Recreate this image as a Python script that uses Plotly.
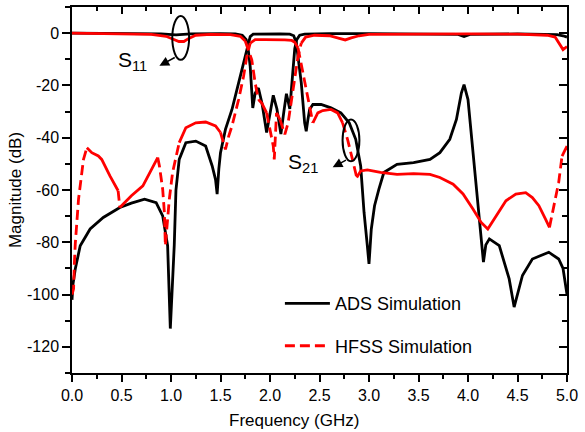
import plotly.graph_objects as go

# ---------------- data ----------------
ads_s11_f = [0.0, 0.5, 0.9, 1.05, 1.2, 1.5, 1.65, 1.72, 1.76, 1.78, 1.80, 1.826, 1.85, 1.883,
             1.92, 1.966, 2.0, 2.033, 2.07, 2.11, 2.14, 2.166, 2.20, 2.23, 2.25, 2.27, 2.30,
             2.35, 2.6, 3.0, 3.5, 3.9, 3.96, 4.02, 4.5, 4.9, 4.96, 5.0]
ads_s11_db = [0, -0.1, -0.3, -0.7, -0.3, -0.2, -0.3, -0.8, -2.5, -6.3, -12.7, -28.6, -23, -21,
              -27, -38, -31, -23.8, -29, -38.6, -30, -23.2, -29, -14, -6, -2.5, -0.8,
              -0.4, -0.2, -0.2, -0.3, -0.5, -1.3, -0.5, -0.3, -0.6, -1.0, -1.5]

ads_s21_f = [0.0, 0.01, 0.033, 0.083, 0.183, 0.316, 0.483, 0.60, 0.733, 0.85, 0.916, 0.966,
             0.993, 1.01, 1.033, 1.05, 1.083, 1.15, 1.25, 1.35, 1.416, 1.45, 1.466, 1.483,
             1.5, 1.55, 1.616, 1.683, 1.75, 1.8, 1.83, 1.9, 2.0, 2.1, 2.2, 2.24, 2.266,
             2.316, 2.35, 2.366, 2.383, 2.40, 2.433, 2.516, 2.616, 2.716, 2.8, 2.866, 2.916,
             2.95, 2.983, 3.0, 3.023, 3.056, 3.1, 3.15, 3.283, 3.45, 3.616, 3.716, 3.816,
             3.883, 3.933, 3.96, 4.0, 4.05, 4.1, 4.133, 4.156, 4.18, 4.216, 4.316, 4.416,
             4.466, 4.55, 4.65, 4.816, 4.916, 4.96, 5.0]
ads_s21_db = [-102, -96, -90.2, -81.3, -74.9, -70.5, -66.7, -65, -63.5, -64.8, -69.9, -81.3,
              -113, -100, -81, -60, -48.3, -41.9, -41.3, -43.2, -50.8, -56, -61.6, -52,
              -45.7, -36.8, -29.2, -19, -8.9, -1.3, -0.4, -0.3, -0.4, -0.3, -0.4, -1.0, -3.8,
              -19, -34.3, -37.5, -33, -29.2, -27.3, -27.3, -28.6, -30.5, -34.3, -40.6, -50.8,
              -68.6, -81.3, -88.3, -75, -66, -59.7, -53.3, -50.2, -49.5, -48.3, -45.7, -40.6,
              -33, -22.9, -19.7, -25.4, -44.5, -63.5, -78.7, -87.6, -81, -78.7, -81.3, -94,
              -104.8, -92.7, -86.4, -83.8, -86.4, -90, -100]

hfss_s11_f = [0.0, 0.5, 0.8, 0.95, 1.03, 1.08, 1.13, 1.18, 1.25, 1.4, 1.6, 1.7, 1.75, 1.783,
              1.816, 1.85, 1.883, 1.916, 1.966, 2.0, 2.033, 2.043, 2.066, 2.1, 2.15, 2.183,
              2.216, 2.25, 2.283, 2.316, 2.36, 2.45, 2.6, 2.7, 2.76, 2.82, 2.9, 3.0, 3.5,
              4.0, 4.5, 4.8, 4.88, 4.92, 4.96, 5.0]
hfss_s11_db = [0, -0.2, -0.5, -1.2, -2.4, -3.2, -3.2, -2.0, -0.8, -0.5, -0.6, -1.2, -3.0, -6.3,
               -10.2, -19, -25.4, -26.7, -30.5, -36.8, -43.2, -48.3, -30.5, -33, -38.7, -34.3,
               -25.4, -16.5, -8.9, -3.8, -1.5, -0.8, -1.0, -2.0, -2.6, -1.8, -1.0, -0.5, -0.3,
               -0.3, -0.4, -0.8, -1.5, -3.8, -6.3, -5.1]

hfss_s21_f = [0.0, 0.016, 0.023, 0.033, 0.066, 0.1, 0.116, 0.15, 0.2, 0.266, 0.3, 0.383, 0.466,
              0.483, 0.6, 0.716, 0.783, 0.866, 0.883, 0.916, 0.933, 0.943, 0.966, 0.983,
              1.016, 1.083, 1.15, 1.25, 1.35, 1.45, 1.5, 1.533, 1.55, 1.583, 1.616, 1.683,
              1.733, 1.766, 1.8, 1.85, 1.95, 2.05, 2.15, 2.22, 2.25, 2.283, 2.333, 2.383,
              2.433, 2.483, 2.533, 2.616, 2.683, 2.733, 2.783, 2.833, 2.876, 2.916, 2.983,
              3.116, 3.283, 3.45, 3.616, 3.716, 3.85, 3.95, 4.05, 4.133, 4.2, 4.283, 4.383,
              4.483, 4.583, 4.65, 4.716, 4.783, 4.823, 4.866, 4.916, 4.95, 5.0]
hfss_s21_db = [-100, -97.8, -88.9, -80.6, -63.5, -52, -48.3, -43.8, -45.7, -47, -48.3, -54.6,
               -60.3, -66.7, -62.2, -58.4, -53.3, -47.6, -50.8, -59.7, -68.6, -81.3, -69.9,
               -63.5, -53.3, -41.9, -36.2, -34.3, -34, -35.5, -38, -41.9, -44.5, -39.4, -35.5,
               -25.4, -16.5, -8.9, -3.8, -2.5, -2.5, -2.5, -2.6, -2.8, -3.5, -5.7, -15.2,
               -25.4, -34.3, -30.5, -29.6, -29.2, -30.5, -34.3, -40.6, -48.3, -55.2, -52.7,
               -52.3, -53.3, -54, -53.7, -54, -55.2, -57.8, -61.5, -67.3, -72.4, -74.9, -69.9,
               -64.1, -61.6, -61, -62.9, -66, -71.1, -74.3, -66, -57.1, -47, -43.2]

x_ticks = [0.0, 0.5, 1.0, 1.5, 2.0, 2.5, 3.0, 3.5, 4.0, 4.5, 5.0]
x_tick_labels = ["0.0", "0.5", "1.0", "1.5", "2.0", "2.5", "3.0", "3.5", "4.0", "4.5", "5.0"]
y_ticks = [0, -20, -40, -60, -80, -100, -120]
y_tick_labels = ["0", "-20", "-40", "-60", "-80", "-100", "-120"]

# ---------------- styling ----------------
FONT = "Liberation Sans, Arial, sans-serif"
BLACK = "#000000"
RED = "#ff0000"
LW = 2.8
X_RANGE = [0, 5]
Y_RANGE = [-130, 10]
ML, MR, MT, MB = 72, 14, 7, 59
W, H = 585, 432
KX = (W - ML - MR) / (X_RANGE[1] - X_RANGE[0])   # px per GHz
KY = (H - MT - MB) / (Y_RANGE[1] - Y_RANGE[0])   # px per dB


def split_by_slope(xs, ys, thr=2.3):
    """Split a polyline into gentle (drawn solid) and steep (drawn dashed) segments,
    mimicking the per-segment dash look of the original plot."""
    sx, sy, dx, dy = [], [], [], []
    for i in range(len(xs) - 1):
        px = (xs[i + 1] - xs[i]) * KX
        py = abs(ys[i + 1] - ys[i]) * KY
        tx, ty = (dx, dy) if py > thr * px else (sx, sy)
        if tx and tx[-1] == xs[i] and ty[-1] == ys[i]:
            tx.append(xs[i + 1]); ty.append(ys[i + 1])
        else:
            if tx:
                tx.append(None); ty.append(None)
            tx.extend([xs[i], xs[i + 1]]); ty.extend([ys[i], ys[i + 1]])
    return sx, sy, dx, dy


fig = go.Figure()

fig.add_trace(go.Scatter(x=ads_s11_f, y=ads_s11_db, mode="lines",
                         line=dict(color=BLACK, width=LW), name="ADS Simulation",
                         legendgroup="ads", showlegend=True))
fig.add_trace(go.Scatter(x=ads_s21_f, y=ads_s21_db, mode="lines",
                         line=dict(color=BLACK, width=LW), name="ADS Simulation",
                         legendgroup="ads", showlegend=False))

first = True
for fx, fy in [(hfss_s11_f, hfss_s11_db), (hfss_s21_f, hfss_s21_db)]:
    sx, sy, dx, dy = split_by_slope(fx, fy)
    fig.add_trace(go.Scatter(x=sx, y=sy, mode="lines", connectgaps=False,
                             line=dict(color=RED, width=LW), name="HFSS Simulation",
                             legendgroup="hfss", showlegend=False))
    fig.add_trace(go.Scatter(x=dx, y=dy, mode="lines", connectgaps=False,
                             line=dict(color=RED, width=LW, dash="10px,5px"),
                             name="HFSS Simulation", legendgroup="hfss",
                             showlegend=first))
    first = False

# invisible trace to activate the mirrored top/right axes
fig.add_trace(go.Scatter(x=[], y=[], xaxis="x2", yaxis="y2", showlegend=False,
                         hoverinfo="skip"))

axis_common = dict(showgrid=False, zeroline=False, showline=True, linecolor=BLACK,
                   linewidth=1.5, tickcolor=BLACK, tickwidth=1.5)

fig.update_layout(
    width=W, height=H,
    margin=dict(l=ML, r=MR, t=MT, b=MB),
    paper_bgcolor="white", plot_bgcolor="white",
    font=dict(family=FONT, color=BLACK),
    xaxis=dict(range=X_RANGE, tickvals=x_ticks, ticktext=x_tick_labels,
               ticks="outside", ticklen=7, tickfont=dict(size=16),
               minor=dict(ticks="outside", ticklen=4, dtick=0.25, tick0=0,
                          tickcolor=BLACK, tickwidth=1.5),
               **axis_common),
    yaxis=dict(range=Y_RANGE, tickvals=y_ticks, ticktext=y_tick_labels,
               ticks="outside", ticklen=8, tickfont=dict(size=16),
               minor=dict(ticks="outside", ticklen=5, dtick=10, tick0=0,
                          tickcolor=BLACK, tickwidth=1.5),
               title=dict(text="Magnitude (dB)", font=dict(size=17), standoff=1),
               **axis_common),
    xaxis2=dict(range=X_RANGE, overlaying="x", side="top", anchor="y",
                tickvals=x_ticks, ticks="inside", ticklen=7, showticklabels=False,
                minor=dict(ticks="inside", ticklen=4, dtick=0.25, tick0=0,
                           tickcolor=BLACK, tickwidth=1.5),
                **axis_common),
    yaxis2=dict(range=Y_RANGE, overlaying="y", side="right", anchor="x",
                tickvals=y_ticks, ticks="inside", ticklen=8, showticklabels=False,
                minor=dict(ticks="inside", ticklen=5, dtick=10, tick0=0,
                           tickcolor=BLACK, tickwidth=1.5),
                **axis_common),
    legend=dict(x=0.42, y=0.24, xanchor="left", yanchor="top",
                bgcolor="rgba(0,0,0,0)", font=dict(size=18),
                traceorder="grouped", tracegroupgap=16, itemwidth=45),
    showlegend=True,
)

# x axis title, placed as in the original (slightly left of centre)
fig.add_annotation(text="Frequency (GHz)", xref="paper", yref="paper",
                   x=0.449, y=-0.13, xanchor="center", yanchor="middle",
                   showarrow=False, font=dict(size=17))

# S11 / S21 labels
fig.add_annotation(text="S<sub>11</sub>", xref="x", yref="y", x=0.44, y=-10.5,
                   xanchor="left", yanchor="middle", showarrow=False,
                   font=dict(size=21))
fig.add_annotation(text="S<sub>21</sub>", xref="x", yref="y", x=2.16, y=-49.5,
                   xanchor="left", yanchor="middle", showarrow=False,
                   font=dict(size=21))

# ellipses around the curve groups
fig.add_shape(type="circle", xref="x", yref="y", x0=1.013, x1=1.183, y0=-10.2, y1=6.6,
              line=dict(color=BLACK, width=2))
fig.add_shape(type="circle", xref="x", yref="y", x0=2.733, x1=2.903, y0=-49, y1=-33,
              line=dict(color=BLACK, width=2))

# arrows from ellipses to labels
fig.add_annotation(x=0.883, y=-12.5, ax=1.053, ay=-9.0, xref="x", yref="y",
                   axref="x", ayref="y", text="", showarrow=True, arrowhead=2,
                   arrowsize=1.3, arrowwidth=1.5, arrowcolor=BLACK)
fig.add_annotation(x=2.633, y=-51.3, ax=2.783, ay=-48.3, xref="x", yref="y",
                   axref="x", ayref="y", text="", showarrow=True, arrowhead=2,
                   arrowsize=1.3, arrowwidth=1.5, arrowcolor=BLACK)

fig.write_html("out.html", config={"displayModeBar": False},
               post_script="document.body.style.margin='0';document.body.style.overflow='hidden';")
